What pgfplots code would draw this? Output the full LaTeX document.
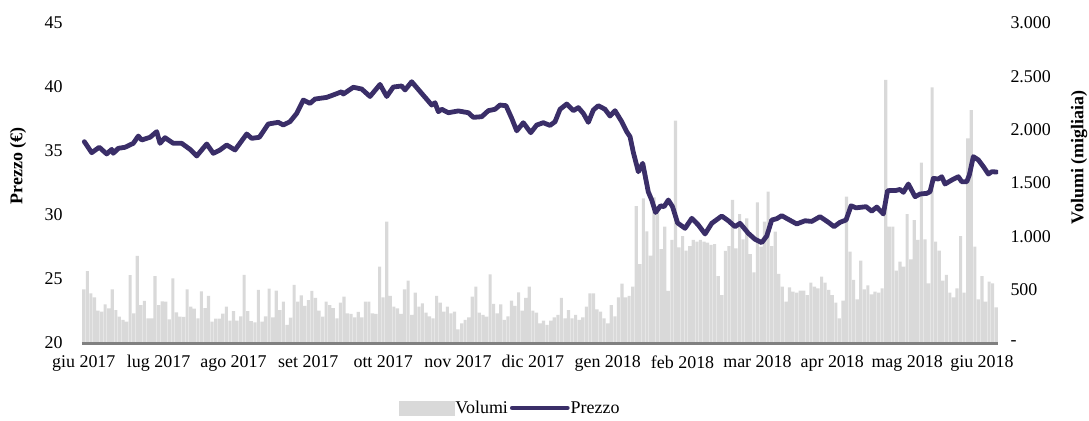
\documentclass[border=0pt]{standalone}
\usepackage{pgfplots}
\pgfplotsset{compat=1.18}
\usepackage{fontspec}
\setmainfont{Liberation Serif}
\definecolor{barcol}{HTML}{D9D9D9}
\definecolor{linecol}{HTML}{3A2E68}
\definecolor{axcol}{HTML}{808080}
\begin{document}
\begin{tikzpicture}
\pgfplotsset{
  common/.style={
    scale only axis, width=916bp, height=320bp,
    xmin=-0.5, xmax=256.5,
    font=\fontsize{18}{21}\selectfont,
    /pgf/number format/assume math mode=true,
    major tick length=0pt,
    y axis line style={draw=none},
  }
}
\begin{axis}[common,
  axis on top,
  axis y line*=right, axis x line*=bottom,
  ymin=0, ymax=3000,
  ytick={0,500,...,3000},
  yticklabels={-,500,1.000,1.500,2.000,2.500,3.000},
  yticklabel style={anchor=west, xshift=9bp},
  x axis line style={draw=axcol, line width=3bp, -},
  xtick={0,21,...,252},
  xticklabels={giu 2017, lug 2017, ago 2017, set 2017, ott 2017, nov 2017, dic 2017, gen 2018, feb 2018, mar 2018, apr 2018, mag 2018, giu 2018},
  xticklabel style={yshift=-9bp},
  ylabel={\textbf{Volumi (migliaia)}},
  ylabel style={at={(axis description cs:1,0.58)}, anchor=center, yshift=-81bp},
]
\addplot[ybar, bar width=0.88, fill=barcol, draw=none] coordinates {
(0,503)(1,675)(2,466)(3,428)(4,303)(5,294)(6,362)(7,325)(8,503)(9,309)
(10,247)(11,216)(12,200)(13,637)(14,278)(15,816)(16,356)(17,394)(18,231)(19,231)
(20,628)(21,356)(22,390)(23,387)(24,222)(25,606)(26,287)(27,247)(28,244)(29,503)
(30,341)(31,322)(32,231)(33,484)(34,328)(35,441)(36,200)(37,228)(38,228)(39,275)
(40,341)(41,209)(42,300)(43,209)(44,250)(45,638)(46,300)(47,206)(48,194)(49,497)
(50,200)(51,250)(52,509)(53,241)(54,491)(55,309)(56,387)(57,169)(58,238)(59,544)
(60,387)(61,447)(62,347)(63,403)(64,488)(65,422)(66,303)(67,247)(68,387)(69,356)
(70,328)(71,231)(72,378)(73,434)(74,278)(75,272)(76,241)(77,291)(78,241)(79,387)
(80,387)(81,278)(82,272)(83,716)(84,428)(85,1137)(86,441)(87,341)(88,325)(89,272)
(90,503)(91,584)(92,263)(93,472)(94,341)(95,372)(96,284)(97,250)(98,231)(99,441)
(100,378)(101,294)(102,341)(103,278)(104,294)(105,128)(106,184)(107,216)(108,241)(109,434)
(110,528)(111,284)(112,263)(113,247)(114,644)(115,366)(116,278)(117,362)(118,216)(119,250)
(120,397)(121,347)(122,475)(123,303)(124,422)(125,528)(126,303)(127,284)(128,184)(129,209)
(130,169)(131,209)(132,241)(133,263)(134,422)(135,231)(136,309)(137,231)(138,263)(139,216)
(140,241)(141,341)(142,466)(143,466)(144,316)
(145,294)(146,231)(147,184)(148,356)(149,250)(150,428)(151,556)(152,428)(153,441)(154,528)
(155,1284)(156,739)(157,1356)(158,1047)(159,819)(160,1366)(161,1284)(162,881)(163,1091)(164,488)
(165,966)(166,2084)(167,897)(168,1003)(169,866)(170,909)(171,966)(172,950)
(173,966)(174,950)(175,941)(176,919)(177,928)(178,628)(179,450)(180,863)(181,909)(182,1341)
(183,888)(184,1209)(185,972)(186,1169)(187,834)(188,663)(189,1319)(190,903)(191,1137)(192,1419)
(193,909)(194,1044)(195,647)(196,528)(197,388)(198,522)(199,481)(200,472)
(201,491)(202,491)(203,450)(204,566)(205,528)(206,513)(207,622)(208,566)(209,497)(210,450)
(211,378)(212,231)(213,397)(214,1372)(215,856)(216,591)(217,409)(218,772)(219,503)(220,541)
(221,456)(222,481)(223,472)(224,513)(225,2466)(226,1091)(227,1091)(228,678)
(229,763)(230,716)(231,1209)(232,784)(233,1153)(234,966)(235,1691)(236,972)(237,559)(238,2397)
(239,950)(240,866)(241,584)(242,638)(243,472)(244,428)(245,513)(246,1003)(247,472)(248,1919)
(249,2184)(250,903)(251,409)(252,628)(253,388)(254,575)(255,560)(256,334)
};
\end{axis}
\begin{axis}[common,
  axis y line*=left, axis x line=none,
  xtick=\empty,
  ymin=20, ymax=45,
  ytick={20,25,...,45},
  yticklabel style={xshift=-16bp},
  ylabel={\textbf{Prezzo (€)}},
  ylabel style={at={(axis description cs:0,0.553)}, anchor=center, yshift=64bp},
  legend columns=2,
  legend style={draw=none, fill=none, at={(axis description cs:0.467,-0.203)}, anchor=center,
    font=\fontsize{18}{21}\selectfont,
    nodes={inner sep=1bp},
    /tikz/every even column/.append style={column sep=1bp}},
]
\addlegendimage{legend image code/.code={\fill[barcol] (0bp,-7bp) rectangle (55bp,7bp);}}
\addlegendentry{Volumi}
\addplot[linecol, line width=4.8bp, line join=round, line cap=round,
  legend image code/.code={\draw[linecol,line width=4.8bp] (0bp,0bp) -- (55bp,0bp);}] coordinates {
(0.15,35.73)(2.22,34.87)(4.35,35.29)(6.43,34.77)(7.83,35.13)(8.28,34.82)(9.69,35.21)(11.57,35.29)(13.89,35.6)(15.30,36.17)
(16.25,35.86)(18.58,36.07)(20.46,36.51)(21.39,35.6)(22.79,36.04)(25.12,35.6)(27.47,35.6)(29.80,35.13)(31.68,34.61)(34.49,35.55)
(36.34,34.82)(38.22,35.08)(40.10,35.47)(42.43,35.08)(45.71,36.33)(47.11,35.99)(49.25,36.07)(51.77,37.11)(54.58,37.24)(55.98,37.03)
(57.86,37.29)(59.74,37.94)(61.59,38.98)(63.47,38.72)(64.88,39.06)(68.16,39.19)(70.01,39.38)(72.37,39.63)(72.82,39.45)(75.62,39.98)
(77.98,39.84)(80.31,39.26)(83.11,40.2)(85.00,39.26)(86.85,40.0)(89.20,40.08)(90.13,39.77)(92.01,40.41)(94.81,39.5)(97.62,38.59)
(98.55,38.77)(99.47,38.07)(100.43,38.26)(102.28,37.99)(105.08,38.13)(107.89,37.99)(109.29,37.63)(111.65,37.68)(113.50,38.15)(115.38,38.26)
(116.78,38.59)(118.47,38.54)(120.07,37.55)(121.47,36.58)(123.32,37.21)(125.40,36.43)(127.08,37.03)(128.93,37.21)(130.81,37.0)(132.22,37.29)
(133.62,38.26)(135.50,38.67)(137.35,38.15)(138.75,38.39)(140.16,37.94)(141.56,37.24)(142.96,38.2)(144.36,38.54)(146.24,38.26)(147.65,37.73)
(149.05,38.15)(150.93,37.29)(152.33,36.51)(153.26,36.12)(154.18,34.9)(155.59,33.38)(156.82,34.04)(158.39,31.8)(159.35,31.17)(160.42,30.2)
(161.82,30.72)(162.8,30.65)(164.0,31.17)(165.19,30.65)(166.6,29.38)(168.7,28.96)(170.58,29.74)(172.43,29.22)(174.31,28.52)(176.18,29.35)
(178.99,29.92)(180.84,29.55)(182.72,29.09)(184.12,29.35)(186.45,28.57)(188.33,28.1)(190.21,27.84)(191.62,28.36)(193.02,29.61)(194.42,29.71)
(195.82,29.95)(197.68,29.66)(200.03,29.3)(202.36,29.55)(204.24,29.5)(206.57,29.87)(208.9,29.43)(210.5,29.09)(212.19,29.43)(213.87,29.61)
(215.27,30.72)(216.68,30.56)(219.48,30.65)(221.08,30.3)(222.48,30.62)(224.33,30.08)(225.51,31.9)(227.9,31.92)(229.02,32.0)(229.95,31.77)
(231.35,32.42)(233.23,31.43)(234.63,31.64)(236.51,31.69)(237.43,31.82)(238.36,32.86)(239.76,32.81)(240.71,32.99)(241.64,32.42)(243.52,32.73)
(245.37,32.99)(246.32,32.6)(247.73,32.6)(248.46,33.13)(249.58,34.56)(251.0,34.3)(252.4,33.78)(253.8,33.2)(254.75,33.38)(256.15,33.36)
};
\addlegendentry{Prezzo}
\end{axis}
\pgfresetboundingbox
\path[use as bounding box] (-82bp,-78bp) rectangle (1007bp,343bp);
\end{tikzpicture}
\end{document}
